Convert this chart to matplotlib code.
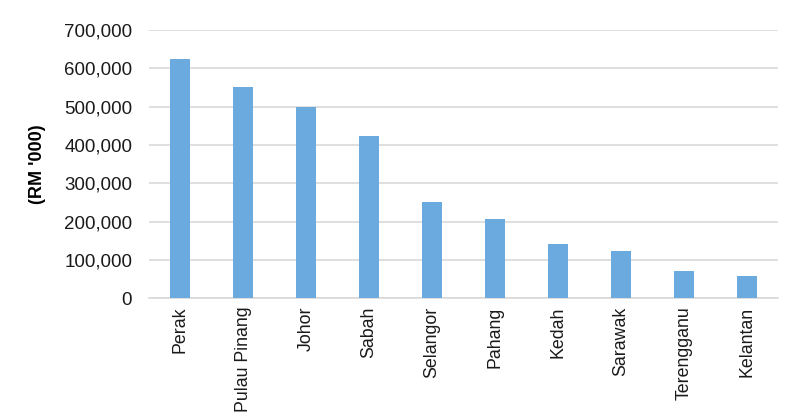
import numpy as np
import matplotlib.pyplot as plt
from matplotlib.ticker import FuncFormatter

plt.rcParams['font.family'] = ['Liberation Sans', 'DejaVu Sans']

states = ['Perak', 'Pulau Pinang', 'Johor', 'Sabah', 'Selangor',
          'Pahang', 'Kedah', 'Sarawak', 'Terengganu', 'Kelantan']
values = [624000, 552000, 500000, 423000, 252000,
          206000, 142000, 123000, 71000, 59000]

fig = plt.figure(figsize=(8, 4.17), dpi=100)
ax = fig.add_axes([0.186, 0.285, 0.787, 0.643])

x = np.arange(len(states))
ax.bar(x, values, width=0.32, color='#6aaadf', zorder=3)

ax.set_xlim(-0.5, len(states) - 0.5)
ax.set_ylim(0, 700000)
ax.set_yticks(np.arange(0, 700001, 100000))
ax.yaxis.set_major_formatter(FuncFormatter(lambda v, p: f'{int(v):,}'))
ax.set_xticks(x)
ax.set_xticklabels(states, rotation=90)

ax.grid(axis='y', color='#d9d9d9', linewidth=1.2, zorder=0)
for s in ['top', 'right', 'left']:
    ax.spines[s].set_visible(False)
ax.spines['bottom'].set_color('#d9d9d9')
ax.spines['bottom'].set_linewidth(1.2)
ax.tick_params(axis='both', length=0, colors='#1a1a1a')
ax.tick_params(axis='y', pad=12, labelsize=13.5)
ax.tick_params(axis='x', pad=6, labelsize=12.8)

ax.set_ylabel("(RM '000)", fontsize=13, fontweight='bold', labelpad=13)

fig.savefig('out.png', dpi=100)
